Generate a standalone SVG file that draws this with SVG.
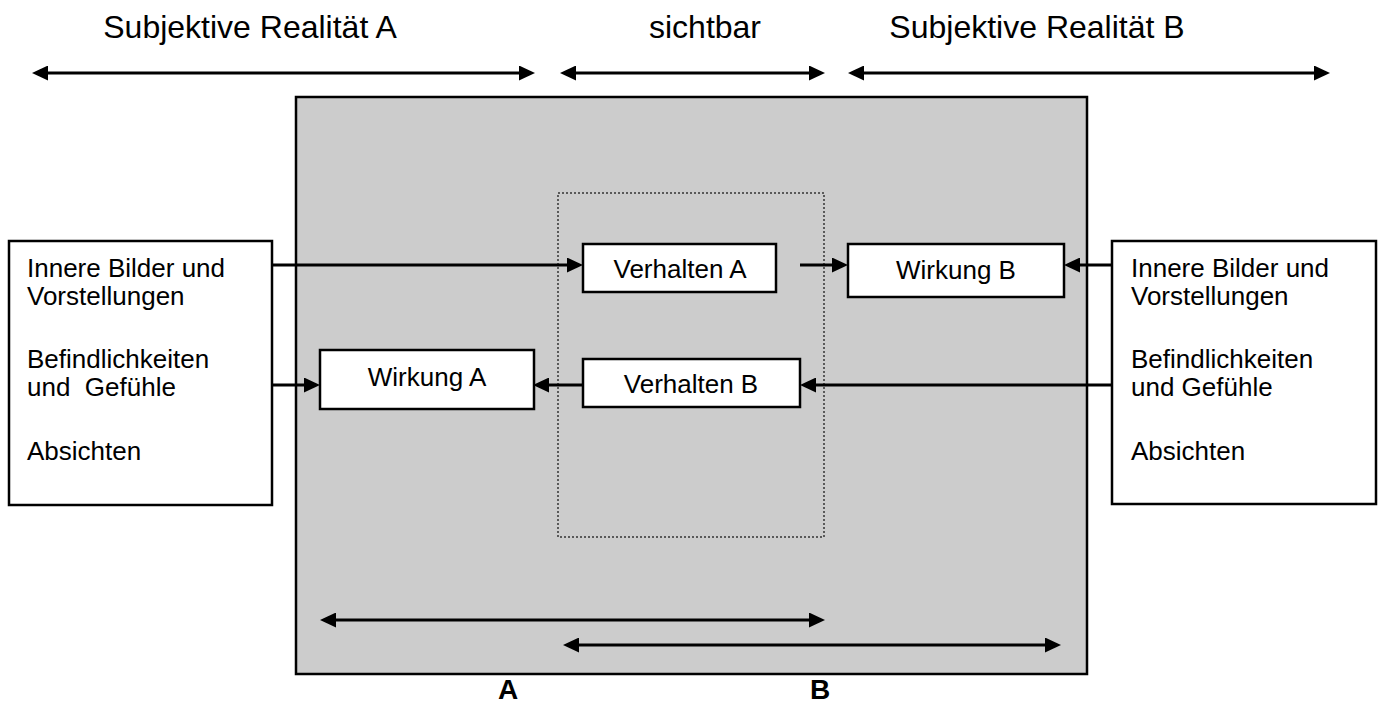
<svg xmlns="http://www.w3.org/2000/svg" width="1380" height="704" viewBox="0 0 1380 704">
<style>
text { font-family: "Liberation Sans", Arial, sans-serif; fill: #000; }
.lbl { font-size: 32px; text-anchor: middle; }
.nt { font-size: 26px; white-space: pre; }
.ct { font-size: 26px; text-anchor: middle; }
.ab { font-size: 28px; font-weight: bold; text-anchor: middle; }
.box { fill: #fff; stroke: #000; stroke-width: 2.5; }
.ln { stroke: #000; stroke-width: 3; fill: none; }
</style>
<defs>
<marker id="ah" markerUnits="userSpaceOnUse" markerWidth="16" markerHeight="15" refX="6" refY="7.5" orient="auto-start-reverse" viewBox="0 0 16 15">
<path d="M0,0 L16,7.5 L0,15 Z" fill="#000"/>
</marker>
</defs>
<g id="frame">
<rect x="296" y="97" width="791" height="577" fill="#cccccc" stroke="#000" stroke-width="2.5"/>
</g>
<g id="visible-zone">
<rect x="558" y="193" width="266" height="344" fill="none" stroke="#333" stroke-width="1.5" stroke-dasharray="2,2"/>
</g>
<g id="labels">
<text class="lbl" x="250" y="38">Subjektive Realität A</text>
<text class="lbl" x="705" y="38">sichtbar</text>
<text class="lbl" x="1037" y="38">Subjektive Realität B</text>
<text class="ab" x="508" y="699">A</text>
<text class="ab" x="820" y="699">B</text>
</g>
<g id="inner-a">
<rect class="box" x="9" y="241" width="263" height="264"/>
<text class="nt" x="27" y="277">Innere Bilder und</text>
<text class="nt" x="27" y="305">Vorstellungen</text>
<text class="nt" x="27" y="368">Befindlichkeiten</text>
<text class="nt" x="27" y="396">und  Gefühle</text>
<text class="nt" x="27" y="460">Absichten</text>
</g>
<g id="inner-b">
<rect class="box" x="1112" y="241" width="264" height="263"/>
<text class="nt" x="1131" y="277">Innere Bilder und</text>
<text class="nt" x="1131" y="305">Vorstellungen</text>
<text class="nt" x="1131" y="368">Befindlichkeiten</text>
<text class="nt" x="1131" y="396">und Gefühle</text>
<text class="nt" x="1131" y="460">Absichten</text>
</g>
<g id="verhalten-a">
<rect class="box" x="583" y="244" width="193" height="48"/>
<text class="ct" x="680" y="278">Verhalten A</text>
</g>
<g id="wirkung-b">
<rect class="box" x="848" y="244" width="216" height="53"/>
<text class="ct" x="956" y="279">Wirkung B</text>
</g>
<g id="wirkung-a">
<rect class="box" x="320" y="350" width="214" height="59"/>
<text class="ct" x="427" y="386">Wirkung A</text>
</g>
<g id="verhalten-b">
<rect class="box" x="583" y="359" width="217" height="48"/>
<text class="ct" x="691" y="393">Verhalten B</text>
</g>
<g id="connectors">
<line class="ln" x1="272" y1="265" x2="573" y2="265" marker-end="url(#ah)"/>
<line class="ln" x1="272" y1="385" x2="310" y2="385" marker-end="url(#ah)"/>
<line class="ln" x1="800" y1="265" x2="838" y2="265" marker-end="url(#ah)"/>
<line class="ln" x1="1112" y1="265" x2="1074" y2="265" marker-end="url(#ah)"/>
<line class="ln" x1="1112" y1="385" x2="810" y2="385" marker-end="url(#ah)"/>
<line class="ln" x1="583" y1="385" x2="543" y2="385" marker-end="url(#ah)"/>
<line class="ln" x1="42" y1="73" x2="525" y2="73" marker-start="url(#ah)" marker-end="url(#ah)"/>
<line class="ln" x1="570" y1="73" x2="815" y2="73" marker-start="url(#ah)" marker-end="url(#ah)"/>
<line class="ln" x1="858" y1="73" x2="1320" y2="73" marker-start="url(#ah)" marker-end="url(#ah)"/>
<line class="ln" x1="330" y1="620" x2="815" y2="620" marker-start="url(#ah)" marker-end="url(#ah)"/>
<line class="ln" x1="573" y1="645" x2="1051" y2="645" marker-start="url(#ah)" marker-end="url(#ah)"/>
</g>
</svg>
